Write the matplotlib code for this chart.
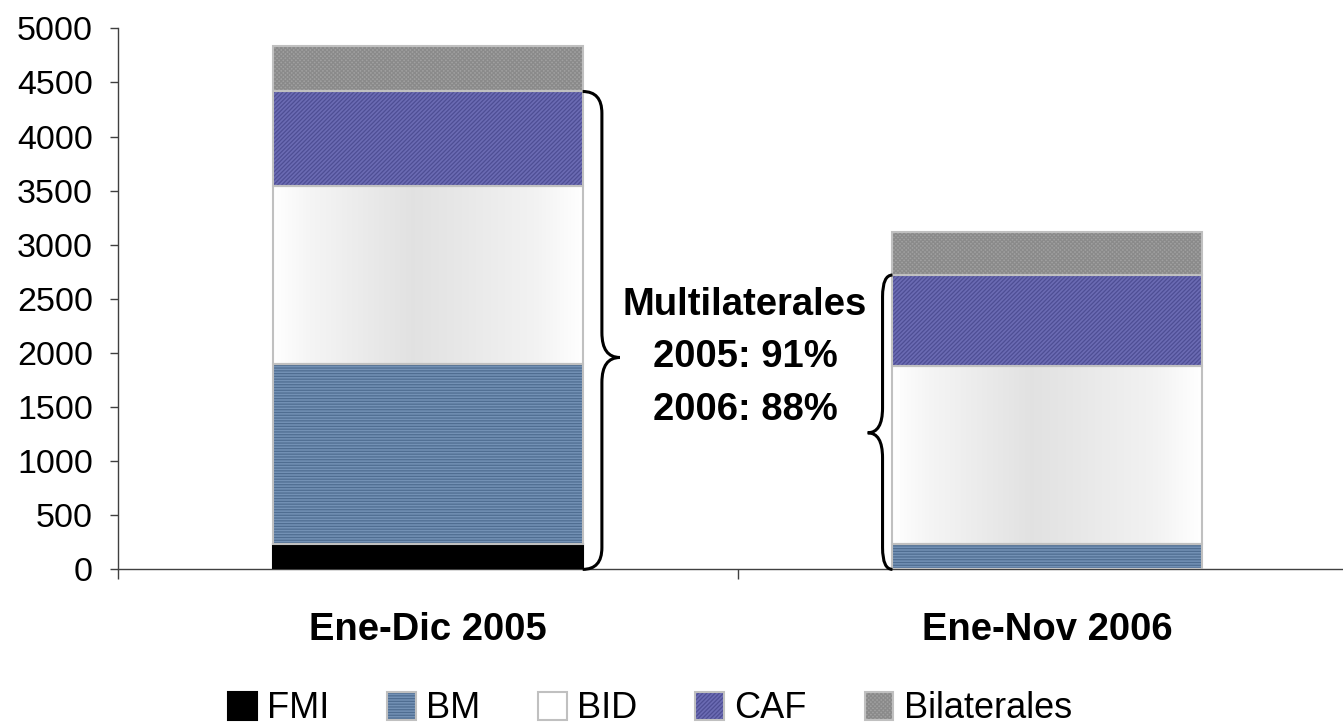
import matplotlib
matplotlib.use("Agg")
import matplotlib.pyplot as plt
import numpy as np
from matplotlib.path import Path
from matplotlib.patches import PathPatch
from matplotlib.legend_handler import HandlerTuple

plt.rcParams['font.family'] = ['Liberation Sans', 'DejaVu Sans']
plt.rcParams['hatch.linewidth'] = 0.9

# valores (millones US$)
periodos = ["Ene-Dic 2005", "Ene-Nov 2006"]
fuentes = ["FMI", "BM", "BID", "CAF", "Bilaterales"]
fmi = [235, 0]
bm = [1663, 235]
bid = [1646, 1645]
caf = [872, 840]
bilaterales = [421, 400]
nota = "Multilaterales\n2005: 91%\n2006: 88%"

series = [fmi, bm, bid, caf, bilaterales]
relleno = ['black', '#7391B5', 'white', '#6B6BB3', '#A0A0A0']
trama = [None, '------', None, '////////', 'xxxxxxxx']
color_trama = ['black', '#4F6D91', 'white', '#4E4E94', '#8A8A8A']
borde = ['black', '#C0C0C0', '#C0C0C0', '#C0C0C0', '#C0C0C0']


def llave(ax, x_borde, x_linea, x_punta, y_arriba, y_abajo, y_punta, r1=200, r2=230):
    # llave "}" o "{" segun el lado de x_punta
    verts = [(x_borde, y_arriba), (x_linea, y_arriba), (x_linea, y_arriba - r1),
             (x_linea, y_punta + r2), (x_linea, y_punta), (x_punta, y_punta),
             (x_linea, y_punta), (x_linea, y_punta - r2),
             (x_linea, y_abajo + r1), (x_linea, y_abajo), (x_borde, y_abajo)]
    codes = [Path.MOVETO, Path.CURVE3, Path.CURVE3, Path.LINETO,
             Path.CURVE3, Path.CURVE3, Path.CURVE3, Path.CURVE3,
             Path.LINETO, Path.CURVE3, Path.CURVE3]
    ax.add_patch(PathPatch(Path(verts, codes), facecolor='none', edgecolor='black',
                           lw=2.2, zorder=6, clip_on=False))


fig = plt.figure(figsize=(13.43, 7.27), dpi=100)
ax = fig.add_axes([0.0879, 0.2168, 0.9226, 0.7443])

x = np.arange(len(periodos))
base = np.zeros(len(periodos))
handles = []
for vals, fc, h, hc, ec in zip(series, relleno, trama, color_trama, borde):
    vals = np.array(vals, float)
    capa = ax.bar(x, vals, 0.5, bottom=base, color=fc, hatch=h, edgecolor=hc,
                  linewidth=0, zorder=2)
    marco = ax.bar(x, vals, 0.5, bottom=base, facecolor='none', edgecolor=ec,
                   linewidth=1.5, zorder=4)
    for r, v in zip(marco, vals):
        if v == 0:
            r.set_visible(False)
    if fc == 'white':
        # degradado gris del BID
        grad = np.interp(np.linspace(0, 1, 200), [0, 0.12, 0.45, 0.55, 0.85, 1],
                         [1.0, 0.96, 0.885, 0.90, 0.95, 1.0])
        img = np.dstack([grad] * 3)
        for r in capa:
            x0, y0, w, hh = r.get_x(), r.get_y(), r.get_width(), r.get_height()
            ax.imshow(img, extent=[x0, x0 + w, y0, y0 + hh], aspect='auto',
                      zorder=3, clip_path=r, interpolation='bilinear')
    handles.append((capa[0], marco[0]))
    base += vals

multi = np.array(fmi) + np.array(bm) + np.array(bid) + np.array(caf)

llave(ax, 0.25, 0.281, 0.310, multi[0], 0, 1958)
llave(ax, 0.75, 0.734, 0.710, multi[1], 0, 1262)

ax.text(0.512, 1958, nota, ha='center', va='center', fontsize=27.5,
        fontweight='bold', linespacing=1.58, zorder=7)

ax.set_xlim(-0.5, 1.5)
ax.set_ylim(0, 5000)
ax.set_yticks(np.arange(0, 5001, 500))
ax.tick_params(axis='y', labelsize=24.5, length=6, width=1, pad=12, color='#404040')
ax.set_xticks(x, periodos, fontsize=27.5, fontweight='bold')
ax.tick_params(axis='x', which='major', length=0, pad=31)
ax.set_xticks([-0.5, 0.5, 1.5], minor=True)
ax.tick_params(axis='x', which='minor', length=7, width=1, color='#404040')
for s in ['top', 'right']:
    ax.spines[s].set_visible(False)
for s in ['left', 'bottom']:
    ax.spines[s].set_color('#404040')
    ax.spines[s].set_linewidth(1)

fig.legend(handles, fuentes, handler_map={tuple: HandlerTuple(ndivide=1, pad=0)},
           loc='center', bbox_to_anchor=(650 / 1343, 1 - 709 / 727), ncol=5,
           frameon=False, fontsize=26, handlelength=0.8, handleheight=0.78,
           handletextpad=0.28, columnspacing=1.6, borderaxespad=0, borderpad=0)

fig.savefig("out.png", dpi=100)
